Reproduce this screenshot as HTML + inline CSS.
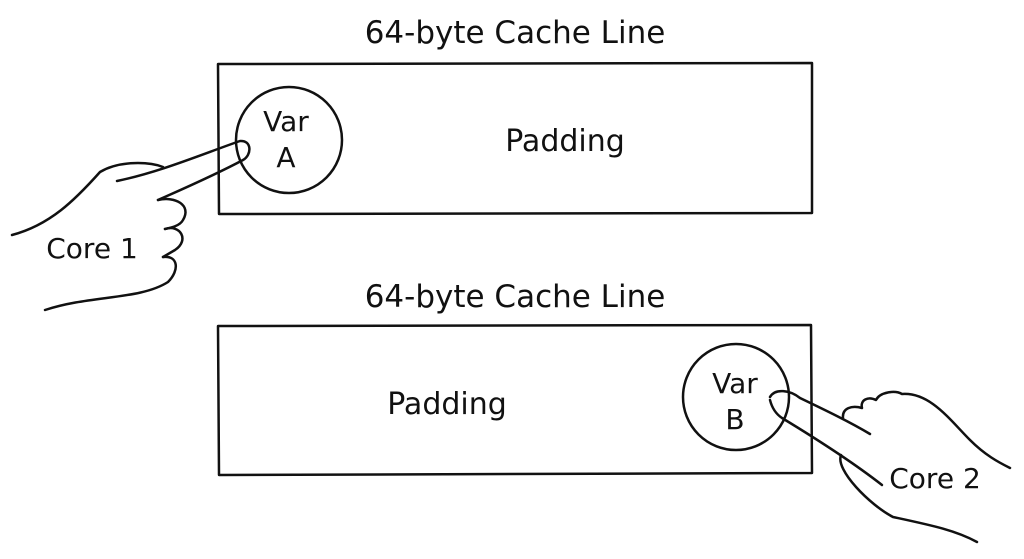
<!DOCTYPE html>
<html><head><style>
html,body{margin:0;padding:0;background:#fff}
svg{display:block}
text{font-family:"DejaVu Sans","Liberation Sans",sans-serif;fill:#111}
</style></head><body>
<svg width="1024" height="559" viewBox="0 0 1024 559" xmlns="http://www.w3.org/2000/svg">
<g fill="none" stroke="#111" stroke-width="2.5" stroke-linecap="round" stroke-linejoin="round">
<path d="M218 64 L812 63 L812 213 L219 214 Z"/>
<path d="M218 326 L811 325 L812 473 L219 475 Z"/>
<circle cx="289" cy="140" r="53"/>
<circle cx="736" cy="397" r="53"/>
<!-- hand 1 -->
<path d="M117 181 C160 172 200 155 240 141 C252 140 252 155 243 160 C215 175 185 188 158 200"/>
<path d="M12 235 C50 225 75 200 100 172 C120 160 150 162 163 167"/>
<path d="M158 200 C175 196 192 205 183 220 C180 226 170 228 165 229"/>
<path d="M165 229 C180 224 190 240 175 250 L163 257"/>
<path d="M163 257 C178 255 180 270 168 282 C140 300 90 295 45 310"/>
<!-- hand 2 -->
<path d="M770 397 C775 388 790 390 800 398 C825 410 850 422 870 434"/>
<path d="M770 400 C772 408 776 414 782 418 C815 438 850 460 882 485"/>
<path d="M841 455 C835 470 870 505 893 517 C930 525 955 530 977 542"/>
<path d="M843 418 C842 408 852 405 862 408 C860 400 868 396 876 400 C880 392 895 390 902 394 C930 392 950 420 970 440 C985 455 998 462 1010 468"/>
</g>
<g text-anchor="middle">
<text x="515" y="43" font-size="31">64-byte Cache Line</text>
<text x="515" y="307" font-size="31">64-byte Cache Line</text>
<text x="565" y="151" font-size="30">Padding</text>
<text x="447" y="414" font-size="30">Padding</text>
<text x="286" y="131" font-size="28">Var</text>
<text x="286" y="167" font-size="28">A</text>
<text x="735" y="393" font-size="28">Var</text>
<text x="735" y="429" font-size="28">B</text>
<text x="92" y="258" font-size="28">Core 1</text>
<text x="935" y="488" font-size="28">Core 2</text>
</g>
</svg>
</body></html>
